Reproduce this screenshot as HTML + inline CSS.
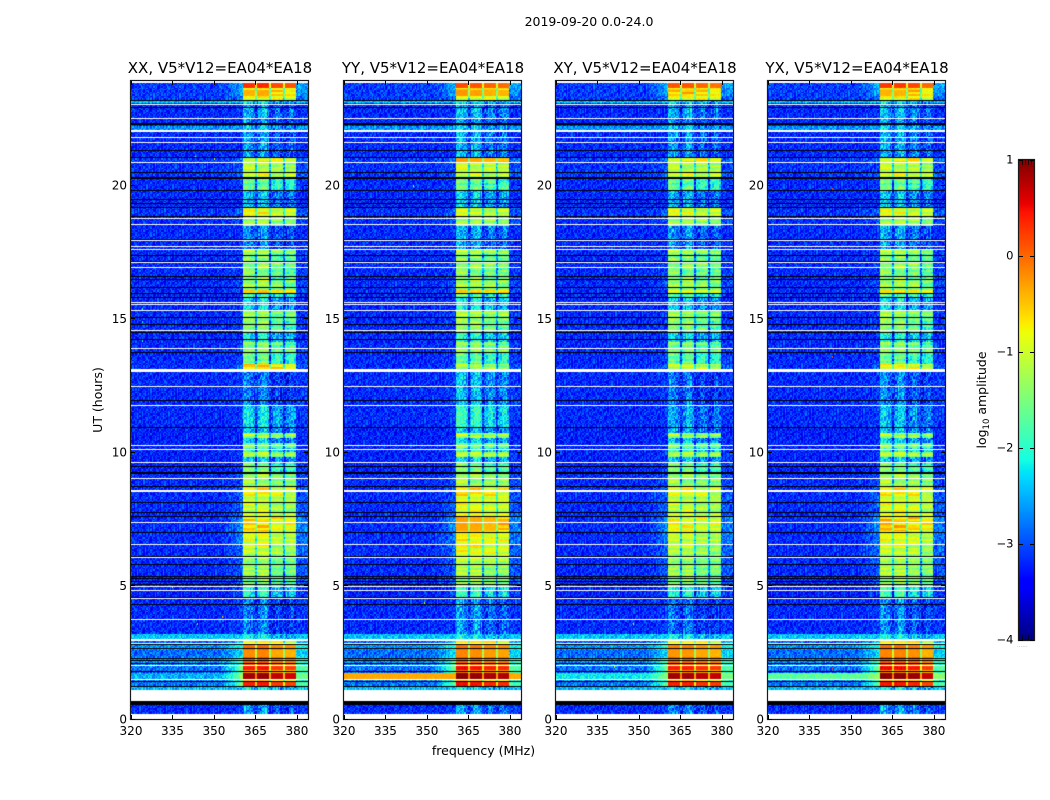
<!DOCTYPE html>
<html lang="en">
<head>
<meta charset="utf-8">
<title>2019-09-20 0.0-24.0</title>
<style>
html,body{margin:0;padding:0;background:#fff;width:1050px;height:800px;overflow:hidden}
#figure{position:relative;width:1050px;height:800px;background:#fff}
canvas{position:absolute;display:block}
svg{position:absolute;left:0;top:0}
text{font-family:"DejaVu Sans","Liberation Sans",sans-serif;fill:#000}
</style>
</head>
<body>
<div id="figure">
<svg id="overlay" width="1050" height="800" viewBox="0 0 1050 800">
  <text x="589" y="26" text-anchor="middle" font-size="12.5">2019-09-20 0.0-24.0</text>
  <text x="102" y="400" text-anchor="middle" font-size="12.5" transform="rotate(-90 102 400)">UT (hours)</text>
  <text x="483.5" y="755" text-anchor="middle" font-size="12.5">frequency (MHz)</text>
  <text x="986" y="400" text-anchor="middle" font-size="12.5" transform="rotate(-90 986 400)">log<tspan font-size="8.5" dy="3">10</tspan><tspan dy="-3"> amplitude</tspan></text>
  <text x="1017" y="647" font-size="5" letter-spacing="0.2" fill="#888" style="fill:#888">......</text>
</svg>
</div>
<script>
// ---- Chart data (hours UT, MHz, log10 amplitude) ----
const panelTitles = ["XX, V5*V12=EA04*EA18","YY, V5*V12=EA04*EA18","XY, V5*V12=EA04*EA18","YX, V5*V12=EA04*EA18"];
const xTickLabels = [320,335,350,365,380];
const yTickLabels = [0,5,10,15,20];
const colorbarTicks = [1,0,-1,-2,-3,-4];

// Start hour of each time segment, ascending.
const segmentStartUT = [0,0.52,1.09,1.24,1.42,1.5,1.72,1.83,2.02,2.32,2.58,2.77,3.0,3.18,4.53,4.98,5.39,5.8,6.14,6.48,7.04,7.6,8.31,8.69,9.21,9.59,9.81,10.0,10.15,10.34,10.52,10.71,10.9,11.76,13.0,13.3,13.71,14.12,14.49,14.79,15.09,15.28,15.8,15.96,16.07,16.44,16.89,17.15,17.41,17.6,17.75,18.46,18.8,19.14,19.81,20.26,20.48,20.82,21.0,22.06,22.2,22.46,22.9,23.07,23.18,23.33,23.55,23.64];
// Off-band level and level just below the RFI band for each segment.
const backgroundLevel = [-3.2,-3.25,-2.45,-2.8,-2.7,-2.6,-2.9,-2.8,-2.7,-2.85,-2.65,-2.9,-2.4,-3.2,-3.25,-3.2,-3.2,-3.2,-3.2,-3.2,-3.2,-3.2,-3.2,-3.2,-3.25,-3.25,-3.25,-3.25,-3.25,-3.25,-3.25,-3.25,-3.2,-3.2,-3.2,-3.2,-3.2,-3.2,-3.2,-3.2,-3.2,-3.2,-3.2,-3.2,-3.2,-3.2,-3.2,-3.2,-3.2,-3.2,-3.2,-3.2,-3.15,-3.2,-3.2,-3.15,-3.15,-3.1,-3.2,-2.65,-3.2,-3.2,-3.2,-2.45,-3.1,-3.1,-3.1,-3.1];
const wingLevel = [-3.1,-3.25,-2.4,-1.5,-1.8,-1.3,-1.5,-1.4,-1.7,-2.2,-1.9,-2.3,-2.35,-3.1,-3.05,-2.9,-2.9,-2.9,-2.8,-2.7,-2.6,-2.9,-2.9,-3.0,-3.1,-3.1,-3.1,-3.2,-3.2,-3.2,-3.2,-3.2,-3.1,-3.1,-2.9,-3.1,-3.1,-3.2,-3.1,-3.1,-3.1,-3.2,-3.2,-3.0,-3.0,-3.1,-3.1,-3.1,-3.1,-3.2,-3.2,-3.0,-2.9,-3.2,-3.1,-2.9,-3.0,-2.8,-3.2,-2.6,-3.1,-3.15,-3.15,-2.4,-2.8,-2.5,-2.5,-2.4];
// RFI-band level for each segment, per polarisation.
const bandXX = [-2.85,-3,-2.35,0.4,-0.4,0.85,-0.2,0.4,0.05,-0.2,-0.05,-0.75,-2.3,-2.95,-2.2,-1.55,-1.35,-1.4,-1.1,-0.95,-0.65,-1.05,-0.8,-1.3,-1.65,-2.5,-1.2,-2.1,-1.5,-2.5,-1.25,-2.6,-2.4,-2.95,-0.55,-1.75,-1.5,-2.3,-1.6,-1.5,-1.3,-2.4,-1.9,-0.6,-1.3,-1.55,-1.35,-1.6,-1.25,-2.9,-2.85,-1.3,-0.85,-2.6,-1.8,-0.95,-1.15,-0.85,-2.8,-2.5,-2.85,-2.7,-2.8,-2.35,-0.8,-0.4,-0.8,0.3];
const bandYY = [-2.75,-3,-2.35,0.45,-0.4,0.9,-0.1,0.45,0.0,-0.2,-0.1,-0.7,-2.3,-2.8,-2.1,-1.35,-1.25,-1.1,-0.85,-0.8,-0.35,-0.9,-0.7,-1.3,-1.65,-2.4,-1.15,-2.1,-1.5,-2.4,-1.2,-2.5,-2.1,-2.6,-1.25,-1.85,-1.45,-2.2,-1.5,-1.4,-1.15,-2.3,-1.8,-0.65,-1.25,-1.5,-1.3,-1.55,-1.2,-2.8,-2.7,-1.3,-1.05,-2.5,-1.7,-1.05,-1.05,-0.35,-2.7,-2.5,-2.8,-2.6,-2.7,-2.35,-0.9,-0.3,-0.6,0.1];
const bandXY = [-2.9,-3,-2.35,0.4,-0.4,0.85,-0.2,0.4,0.0,-0.25,-0.15,-0.8,-2.3,-3.0,-2.2,-1.5,-1.35,-1.4,-1.2,-1.1,-0.85,-1.1,-0.9,-1.35,-1.65,-2.5,-1.25,-2.1,-1.55,-2.6,-1.3,-2.7,-2.7,-3.0,-1.05,-1.85,-1.55,-2.4,-1.6,-1.5,-1.3,-2.5,-1.9,-0.95,-1.3,-1.55,-1.35,-1.6,-1.25,-2.9,-2.8,-1.3,-0.95,-2.7,-1.8,-0.95,-1.15,-0.75,-2.8,-2.5,-2.85,-2.7,-2.8,-2.35,-0.8,-0.5,-0.65,0.1];
const bandYX = [-2.8,-3,-2.35,0.4,-0.4,0.9,-0.2,0.45,0.05,-0.2,-0.1,-0.75,-2.3,-2.9,-2.05,-1.4,-1.25,-1.3,-1.1,-0.95,-0.55,-0.95,-0.8,-1.3,-1.65,-2.5,-1.2,-2.1,-1.5,-2.5,-1.3,-2.6,-2.6,-2.9,-0.85,-1.8,-1.5,-2.3,-1.6,-1.5,-1.3,-2.4,-1.9,-0.75,-1.3,-1.55,-1.35,-1.6,-1.25,-2.85,-2.75,-1.3,-0.95,-2.6,-1.75,-0.95,-1.15,-0.8,-2.75,-2.5,-2.8,-2.65,-2.75,-2.35,-0.8,-0.45,-0.7,0.2];
// Per-subband offsets (log10) for XX, YY, XY, YX.
const subbandOffsetXX = [0,0.05,-0.15,-0.2];
const subbandOffsetYY = [0.05,0,-0.08,-0.12];
const subbandOffsetXY = [0,0,-0.1,-0.15];
const subbandOffsetYX = [0.05,0.05,-0.02,-0.2];
// Low-level spectral shape across the band, one value per MHz from 360.
const bandShape = [0.2,0.28,0.2,0.08,-0.1,-0.3,0.02,0.28,0.28,0,-0.3,-0.2,0.05,0.1,-0.15,-0.3,-0.15,0.1,0.1,-0.15,-0.3];
// Shoulder below the band: MHz knots and fraction of the way to wingLevel.
const rampMHz = [352,355,358,360.5];
const rampWeight = [0,0.25,0.6,1];
// Broadband interference near 1.6 h, per polarisation.
const broadbandUT = [1.5,1.72];
const broadbandLevel = [-2.5,-0.35,-2.2,-1.7];
// Band edges in MHz.
const bandStartMHz = 360.5;
const bandEndMHz = 379.8;
const gapStartMHz = [365,370,375];
const gapWidthMHz = 0.55;
// Flagged data: thin rows (centre hour) and wider ranges.
const whiteRowsUT = [23.03,22.5,21.81,21.6,20.85,18.77,18.53,17.95,17.73,17.6,17.13,16.94,15.63,15.53,15.31,14.56,13.88,12.46,11.75,10.25,10.11,9.61,9.01,8.58,8.53,7.37,6.54,6.06,4.98,4.82,4.52,3.73,2.86,2.03,1.49];
const blackRowsUT = [23.19,22.93,21.31,21.04,20.5,19.8,19.47,19.31,19.19,18.84,17.99,17.39,17.16,16.6,16.47,16.17,15.94,15.82,15.07,14.78,14.48,14.22,13.76,11.95,10.92,9.47,8.71,8.12,7.76,7.59,7.01,6.12,5.79,5.37,5.28,5.17,5.06,4.56,4.3,2.8,2.65,2.3,2.21,2.09,1.81,1.43,1.24];
const whiteRangeStartUT = [23.82,21.98,13.0,2.93,0.68,0];
const whiteRangeEndUT = [23.95,22.06,13.09,3.01,1.08,0.17];
const blackRangeStartUT = [0.54,9.17,20.22,22.24];
const blackRangeEndUT = [0.68,9.24,20.29,22.31];
// Isolated hot channels: polarisation index, MHz, hour, level.
const hotPanel = [0,0,0,0,0,0,0,0,0,1,1,2,2,3,3,3,3,3,3];
const hotMHz = [335,353,353,344,350,343,323.8,323.8,323.8,349,345,341,348,343,343,343,343,343,343];
const hotUT = [4.97,3.85,4.55,3.6,21.0,21.1,14.2,14.9,15.4,4.4,20.0,1.98,3.6,2.2,3.0,1.9,19.9,20.5,13.6];
const hotLevel = [-1,-0.5,-0.3,-0.5,-0.9,-0.8,-2,-2,-2,-1.1,-0.9,-1,-0.7,-0.1,0.1,0.1,0.2,0.2,0.1];
// Hand-typed amplitude grain (digits 0-9), tiled over the waterfall.
const grainTile = [
"3719258046173925061","8240615937284071693","1596372804916258347","6038147259530416728",
"2783950164827396015","9160428375061842793","4827193056243957106","0375861294718603452",
"7294036518392570184","5618274903165482937","2940751638072916345","8163529470384156720",
"3507916284659238071","6482037195126740859","1975340862938025164","7236804159471685302",
"5091428637250369418"];
// Hand-typed fine banding in time inside the RFI band (digits 0-9).
const bandStripes = "72946185037296410582739164058273194605738291640";

// ---- Axis layout ----
const panelLeft = [131,344,556,768];
const plotWidth = 177, plotTop = 81, plotBottom = 719;
const xDomain = [320,384], yDomain = [0,23.895];
function xScale(mhz,p){return panelLeft[p]+(mhz-xDomain[0])/(xDomain[1]-xDomain[0])*plotWidth;}
function yScale(h){return plotBottom-(h-yDomain[0])/(yDomain[1]-yDomain[0])*(plotBottom-plotTop);}
function xInvert(px){return xDomain[0]+px/plotWidth*(xDomain[1]-xDomain[0]);}
function yInvert(py){return yDomain[1]-py/(plotBottom-plotTop)*(yDomain[1]-yDomain[0]);}

const bandsByPanel = [bandXX,bandYY,bandXY,bandYX];
const offsetsByPanel = [subbandOffsetXX,subbandOffsetYY,subbandOffsetXY,subbandOffsetYX];

function jetChannel(t,knots){
  for(let i=1;i<knots.length;i++){
    if(t<=knots[i][0]){
      const a=knots[i-1],b=knots[i];
      return a[1]+(b[1]-a[1])*(t-a[0])/(b[0]-a[0]);
    }
  }
  return knots[knots.length-1][1];
}
const jetR=[[0,0],[0.35,0],[0.66,1],[0.89,1],[1,0.5]];
const jetG=[[0,0],[0.125,0],[0.375,1],[0.64,1],[0.91,0],[1,0]];
const jetB=[[0,0.5],[0.11,1],[0.34,1],[0.65,0],[1,0]];
function colorOf(v){
  const t=Math.max(0,Math.min(1,(v+4)/5));
  return [jetChannel(t,jetR)*255,jetChannel(t,jetG)*255,jetChannel(t,jetB)*255];
}
function segmentIndex(h){
  let s=0;
  while(s+1<segmentStartUT.length&&segmentStartUT[s+1]<=h)s++;
  return s;
}
function grainAt(h,mhz,p){
  const rowIndex=Math.floor(h*20)+p*5;
  const row=grainTile[rowIndex%grainTile.length];
  const c=(Math.floor((mhz-320)*2)+rowIndex*3+p*7)%row.length;
  return (row.charCodeAt(c)-48-4.5)*0.09;
}
function stripeAt(h,sb){
  const i=(Math.floor(h*12)+sb*3)%bandStripes.length;
  return (bandStripes.charCodeAt(i)-48-4.5)*0.06;
}
function rampFraction(mhz){
  if(mhz<=rampMHz[0])return 0;
  for(let i=1;i<rampMHz.length;i++){
    if(mhz<=rampMHz[i]){
      return rampWeight[i-1]+(rampWeight[i]-rampWeight[i-1])*(mhz-rampMHz[i-1])/(rampMHz[i]-rampMHz[i-1]);
    }
  }
  return 1;
}
function levelAt(p,mhz,h){
  const s=segmentIndex(h);
  let bg=backgroundLevel[s];
  let wing=wingLevel[s];
  if(h>=broadbandUT[0]&&h<broadbandUT[1]){
    bg=broadbandLevel[p];
    wing=Math.max(wing,bg);
  }
  let v;
  let grainBoost=1;
  if(mhz<bandStartMHz){
    v=bg+(wing-bg)*rampFraction(mhz);
  }else if(mhz>=bandEndMHz){
    v=bg+(wing-bg)*0.75;
  }else{
    let sb=0,inGap=false;
    for(let g=0;g<gapStartMHz.length;g++){
      if(mhz>=gapStartMHz[g]){
        sb=g+1;
        if(mhz<gapStartMHz[g]+gapWidthMHz)inGap=true;
      }
    }
    const base=bandsByPanel[p][s]+offsetsByPanel[p][sb];
    const weak=Math.max(0,Math.min(1,-1-base));
    const mid=base>-1.9&&base<-0.45?1:0;
    v=base+weak*bandShape[Math.floor(mhz-360)]+mid*stripeAt(h,sb);
    grainBoost=1+0.4*weak;
    if(inGap)v=Math.max(v-1,bg);
  }
  const grainScale=Math.max(0.12,Math.min(1,(-v)/2.8))*grainBoost;
  return v+grainAt(h,mhz,p)*grainScale;
}
function paintPanel(canvas,p){
  const w=canvas.width,ht=canvas.height,ctx=canvas.getContext('2d');
  const img=ctx.createImageData(w,ht);
  for(let y=0;y<ht;y++){
    const h=yInvert(y+0.5);
    for(let x=0;x<w;x++){
      const c=colorOf(levelAt(p,xInvert(x+0.5),h));
      const k=(y*w+x)*4;
      img.data[k]=c[0];img.data[k+1]=c[1];img.data[k+2]=c[2];img.data[k+3]=255;
    }
  }
  ctx.putImageData(img,0,0);
  // Isolated hot channels.
  for(let i=0;i<hotPanel.length;i++){
    if(hotPanel[i]!==p)continue;
    const c=colorOf(hotLevel[i]);
    ctx.fillStyle='rgb('+c.map(Math.round).join(',')+')';
    ctx.fillRect(Math.round(xScale(hotMHz[i],p)-panelLeft[p]),Math.round(yScale(hotUT[i])-plotTop),1,2);
  }
  // Flagged rows.
  function band(h0,h1,color){
    const a=Math.round(yScale(h1)-plotTop),b=Math.round(yScale(h0)-plotTop);
    ctx.fillStyle=color;
    ctx.fillRect(0,a,w,Math.max(1,b-a));
  }
  blackRowsUT.forEach(function(h){band(h,h,'#000');});
  blackRangeStartUT.forEach(function(h,i){band(h,blackRangeEndUT[i],'#000');});
  whiteRowsUT.forEach(function(h){band(h,h,'#fff');});
  whiteRangeStartUT.forEach(function(h,i){band(h,whiteRangeEndUT[i],'#fff');});
}

const figure=document.getElementById('figure');
const overlay=document.getElementById('overlay');
const NS='http://www.w3.org/2000/svg';
function svgEl(tag,attrs,text){
  const el=document.createElementNS(NS,tag);
  for(const k in attrs)el.setAttribute(k,attrs[k]);
  if(text!==undefined)el.textContent=text;
  overlay.appendChild(el);
  return el;
}

panelTitles.forEach(function(title,p){
  const left=panelLeft[p];
  const canvas=document.createElement('canvas');
  canvas.width=plotWidth;
  canvas.height=plotBottom-plotTop;
  canvas.style.left=left+'px';
  canvas.style.top=plotTop+'px';
  
  
  figure.insertBefore(canvas,overlay);
  paintPanel(canvas,p);

  const frame=svgEl('rect',{x:left-0.5,y:plotTop-0.5,width:plotWidth+1,height:plotBottom-plotTop+1,fill:'none',stroke:'#1a1a1a','stroke-width':1.2});
  
  

  const t=svgEl('text',{x:left+plotWidth/2+0.5,y:73,'text-anchor':'middle','font-size':15},title);
  
  

  xTickLabels.forEach(function(v){
    const x=Math.round(xScale(v,p))+0.5;
    const b=svgEl('line',{x1:x,x2:x,y1:plotBottom,y2:plotBottom-4,stroke:'#000'});
    
    
    const u=svgEl('line',{x1:x,x2:x,y1:plotTop,y2:plotTop+4,stroke:'#000'});
    
    
    const l=svgEl('text',{x:xScale(v,p),y:735,'text-anchor':'middle','font-size':12},String(v));
    
    
  });
  yTickLabels.forEach(function(v){
    const y=Math.round(yScale(v))+0.5;
    const a=svgEl('line',{x1:left,x2:left+4,y1:y,y2:y,stroke:'#000'});
    
    
    const c=svgEl('line',{x1:left+plotWidth-4,x2:left+plotWidth,y1:y,y2:y,stroke:'#000'});
    
    
    const l=svgEl('text',{x:left-4,y:yScale(v)+4.5,'text-anchor':'end','font-size':12},String(v));
    
    
  });
});

// ---- Colorbar ----
const cbLeft=1019,cbWidth=15,cbTop=160,cbBottom=640,cbDomain=[-4,1];
function cbScale(v){return cbBottom-(v-cbDomain[0])/(cbDomain[1]-cbDomain[0])*(cbBottom-cbTop);}
const cbCanvas=document.createElement('canvas');
cbCanvas.width=cbWidth;
cbCanvas.height=cbBottom-cbTop;
cbCanvas.style.left=cbLeft+'px';
cbCanvas.style.top=cbTop+'px';


figure.insertBefore(cbCanvas,overlay);
(function(){
  const ctx=cbCanvas.getContext('2d');
  for(let y=0;y<cbCanvas.height;y++){
    const v=cbDomain[1]-(y+0.5)/cbCanvas.height*(cbDomain[1]-cbDomain[0]);
    const c=colorOf(v);
    ctx.fillStyle='rgb('+c.map(Math.round).join(',')+')';
    ctx.fillRect(0,y,cbWidth,1);
  }
})();
const cbFrame=svgEl('rect',{x:cbLeft-0.5,y:cbTop-0.5,width:cbWidth+1,height:cbBottom-cbTop+1,fill:'none',stroke:'#1a1a1a','stroke-width':1.2});


colorbarTicks.forEach(function(v){
  const y=Math.round(cbScale(v))+0.5;
  const a=svgEl('line',{x1:cbLeft,x2:cbLeft+4,y1:y,y2:y,stroke:'#000'});
  
  
  const b=svgEl('line',{x1:cbLeft+cbWidth-4,x2:cbLeft+cbWidth,y1:y,y2:y,stroke:'#000'});
  
  
  const l=svgEl('text',{x:1013.5,y:cbScale(v)+3.5,'text-anchor':'end','font-size':11.5},v<0?'\u2212'+(-v):String(v));
  
  
});
[3,6,9,12].forEach(function(dx){
  const a=svgEl('line',{x1:cbLeft+dx+0.5,x2:cbLeft+dx+0.5,y1:cbTop,y2:cbTop+5,stroke:'#000','stroke-opacity':0.7});
  
  
  const b=svgEl('line',{x1:cbLeft+dx+0.5,x2:cbLeft+dx+0.5,y1:cbBottom-5,y2:cbBottom,stroke:'#000','stroke-opacity':0.7});
  
  
});
</script>
</body>
</html>
